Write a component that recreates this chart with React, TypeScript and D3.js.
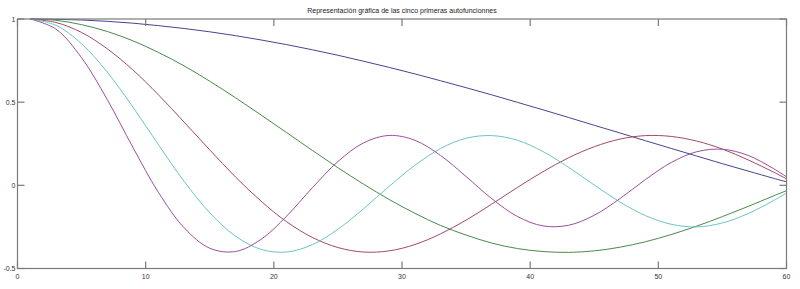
import React from "react";
import * as d3 from "d3";

const xs = [1, 3, 5, 7, 9, 11, 13, 15, 17, 19, 21, 23, 25, 27, 29, 31, 33, 35, 37, 39, 41, 43, 45, 47, 49, 51, 53, 55, 57, 59, 60];

const blue = [1.0, 0.998, 0.994, 0.986, 0.975, 0.96, 0.943, 0.923, 0.9, 0.874, 0.846, 0.815, 0.782, 0.746, 0.709, 0.67, 0.629, 0.587, 0.544, 0.499, 0.454, 0.408, 0.361, 0.315, 0.268, 0.222, 0.176, 0.13, 0.086, 0.042, 0.021];
const green = [1.0, 0.992, 0.966, 0.925, 0.869, 0.799, 0.718, 0.626, 0.527, 0.423, 0.317, 0.21, 0.106, 0.007, -0.085, -0.168, -0.241, -0.299, -0.347, -0.38, -0.398, -0.403, -0.394, -0.372, -0.339, -0.296, -0.245, -0.188, -0.127, -0.063, -0.032];
const red = [1.0, 0.979, 0.919, 0.821, 0.694, 0.544, 0.38, 0.213, 0.051, -0.095, -0.219, -0.313, -0.374, -0.401, -0.394, -0.356, -0.292, -0.209, -0.113, -0.013, 0.082, 0.166, 0.232, 0.278, 0.299, 0.294, 0.266, 0.218, 0.153, 0.079, 0.039];
const cyan = [1.0, 0.962, 0.851, 0.681, 0.471, 0.244, 0.024, -0.165, -0.305, -0.385, -0.401, -0.357, -0.264, -0.141, -0.006, 0.12, 0.221, 0.283, 0.299, 0.271, 0.203, 0.108, 0.002, -0.1, -0.182, -0.234, -0.25, -0.226, -0.17, -0.091, -0.046];
const magenta = [1.0, 0.939, 0.767, 0.516, 0.229, -0.043, -0.255, -0.378, -0.398, -0.325, -0.185, -0.015, 0.143, 0.255, 0.3, 0.271, 0.18, 0.053, -0.08, -0.187, -0.244, -0.24, -0.18, -0.08, 0.035, 0.137, 0.202, 0.217, 0.18, 0.1, 0.051];

const seriesList = [blue, green, red, cyan, magenta];
const seriesColors = ["#46468e", "#4a8a4a", "#a04a6a", "#6cc4c4", "#9a509a"];

const xTicks = [0, 10, 20, 30, 40, 50, 60];
const yTicks = [-0.5, 0, 0.5, 1];
const yTickLabels = ["-0.5", "0", "0.5", "1"];
const title = "Representación gráfica de las cinco primeras autofuncionnes";

export default function App() {
  const W = 800;
  const H = 289;
  const left = 17.5;
  const right = 786.5;
  const top = 19;
  const bottom = 268.5;
  const x = d3.scaleLinear().domain([0, 60]).range([left, right]);
  const y = d3.scaleLinear().domain([-0.5, 1]).range([bottom, top]);
  const line = d3
    .line<number>()
    .x((_, i) => x(xs[i]))
    .y((d) => y(d))
    .curve(d3.curveCatmullRom.alpha(0.5));
  const axisColor = "#7a7a7a";
  const tickLen = 7;
  const font = "'Liberation Sans', Arial, sans-serif";

  return (
    <svg
      width={W}
      height={H}
      style={{ position: "absolute", left: 0, top: 0, background: "#fff" }}
    >
      <rect x={0} y={0} width={W} height={H} fill="#fff" />
      <text x={(left + right) / 2} y={13} fontSize={7} fontFamily={font} textAnchor="middle" fill="#222">
        {title}
      </text>
      {seriesList.map((s, i) => (
        <path key={i} d={line(s) || ""} fill="none" stroke={seriesColors[i]} strokeWidth={1} />
      ))}
      <rect x={left} y={top} width={right - left} height={bottom - top} fill="none" stroke={axisColor} strokeWidth={1.2} />
      {xTicks.map((t) => (
        <g key={"x" + t}>
          <line x1={x(t)} x2={x(t)} y1={bottom} y2={bottom - tickLen} stroke={axisColor} strokeWidth={1.2} />
          <line x1={x(t)} x2={x(t)} y1={top} y2={top + tickLen} stroke={axisColor} strokeWidth={1.2} />
          <text x={x(t)} y={279} fontSize={7} fontFamily={font} textAnchor="middle" fill="#333">
            {t}
          </text>
        </g>
      ))}
      {yTicks.map((t, i) => (
        <g key={"y" + t}>
          <line x1={left} x2={left + tickLen} y1={y(t)} y2={y(t)} stroke={axisColor} strokeWidth={1.2} />
          <line x1={right} x2={right - tickLen} y1={y(t)} y2={y(t)} stroke={axisColor} strokeWidth={1.2} />
          <text x={left - 2} y={y(t) + 2.5} fontSize={7} fontFamily={font} textAnchor="end" fill="#333">
            {yTickLabels[i]}
          </text>
        </g>
      ))}
    </svg>
  );
}
